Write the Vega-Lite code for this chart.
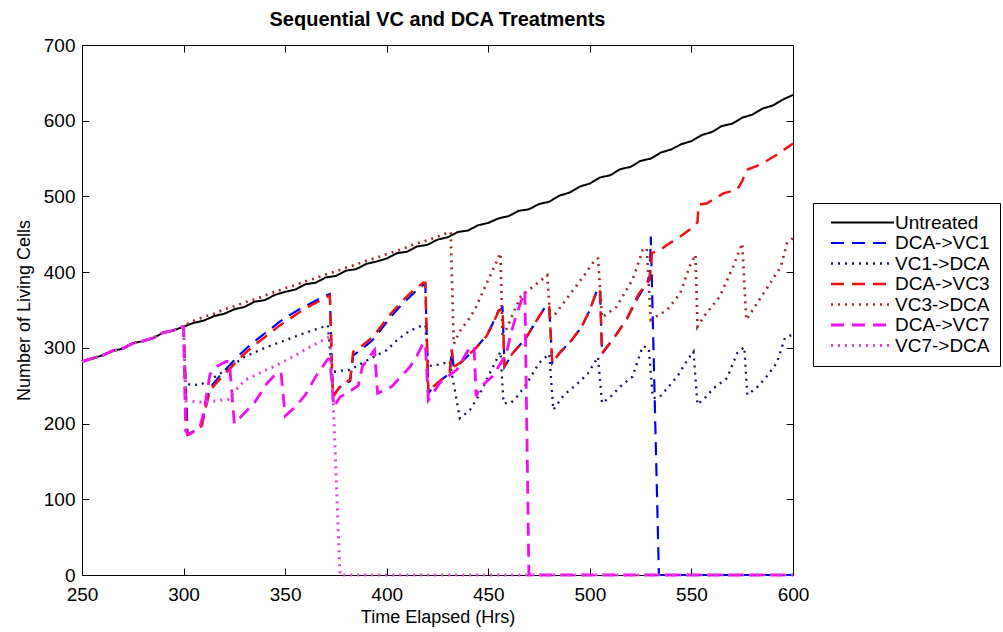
{
"$schema": "https://vega.github.io/schema/vega-lite/v6.json",
"width": 711, "height": 530,
"autosize": {"type": "none"},
"padding": {"left": 82, "top": 45, "right": 210, "bottom": 57},
"background": "white",
"title": {"text": "Sequential VC and DCA Treatments", "font": "Liberation Sans", "fontSize": 20, "fontWeight": "bold", "color": "#000", "offset": 6, "anchor": "middle"},
"config": {
  "view": {"stroke": "#000", "strokeWidth": 1},
  "axis": {"labelFont": "Liberation Sans", "labelFontSize": 19, "labelColor": "#000", "titleFont": "Liberation Sans", "titleFontSize": 18, "titleFontWeight": "normal", "titleColor": "#000", "domain": false, "tickColor": "#000", "tickSize": 7, "tickWidth": 1, "offset": -7, "grid": false, "labelFlush": false, "labelOverlap": false}
},
"data": {"values": [
{"s":"Untreated","t":250,"n":282},{"s":"Untreated","t":255,"n":286},{"s":"Untreated","t":260,"n":290},{"s":"Untreated","t":265,"n":296},{"s":"Untreated","t":270,"n":299},{"s":"Untreated","t":275,"n":306},{"s":"Untreated","t":280,"n":309},{"s":"Untreated","t":285,"n":313},{"s":"Untreated","t":290,"n":320},{"s":"Untreated","t":295,"n":323},{"s":"Untreated","t":300,"n":328},{"s":"Untreated","t":305,"n":333},{"s":"Untreated","t":310,"n":336},{"s":"Untreated","t":315,"n":342},{"s":"Untreated","t":320,"n":345},{"s":"Untreated","t":325,"n":351},{"s":"Untreated","t":330,"n":354},{"s":"Untreated","t":335,"n":361},{"s":"Untreated","t":340,"n":363},{"s":"Untreated","t":345,"n":370},{"s":"Untreated","t":350,"n":374},{"s":"Untreated","t":355,"n":377},{"s":"Untreated","t":360,"n":384},{"s":"Untreated","t":365,"n":386},{"s":"Untreated","t":370,"n":393},{"s":"Untreated","t":375,"n":395},{"s":"Untreated","t":380,"n":402},{"s":"Untreated","t":385,"n":404},{"s":"Untreated","t":390,"n":411},{"s":"Untreated","t":395,"n":414},{"s":"Untreated","t":400,"n":418},{"s":"Untreated","t":405,"n":425},{"s":"Untreated","t":410,"n":427},{"s":"Untreated","t":415,"n":434},{"s":"Untreated","t":420,"n":436},{"s":"Untreated","t":425,"n":443},{"s":"Untreated","t":430,"n":446},{"s":"Untreated","t":435,"n":453},{"s":"Untreated","t":440,"n":455},{"s":"Untreated","t":445,"n":462},{"s":"Untreated","t":450,"n":465},{"s":"Untreated","t":455,"n":471},{"s":"Untreated","t":460,"n":474},{"s":"Untreated","t":465,"n":481},{"s":"Untreated","t":470,"n":483},{"s":"Untreated","t":475,"n":490},{"s":"Untreated","t":480,"n":493},{"s":"Untreated","t":485,"n":501},{"s":"Untreated","t":490,"n":505},{"s":"Untreated","t":495,"n":513},{"s":"Untreated","t":500,"n":517},{"s":"Untreated","t":505,"n":525},{"s":"Untreated","t":510,"n":528},{"s":"Untreated","t":515,"n":536},{"s":"Untreated","t":520,"n":539},{"s":"Untreated","t":525,"n":547},{"s":"Untreated","t":530,"n":550},{"s":"Untreated","t":535,"n":558},{"s":"Untreated","t":540,"n":562},{"s":"Untreated","t":545,"n":569},{"s":"Untreated","t":550,"n":573},{"s":"Untreated","t":555,"n":581},{"s":"Untreated","t":560,"n":585},{"s":"Untreated","t":565,"n":593},{"s":"Untreated","t":570,"n":596},{"s":"Untreated","t":575,"n":604},{"s":"Untreated","t":580,"n":608},{"s":"Untreated","t":585,"n":616},{"s":"Untreated","t":590,"n":620},{"s":"Untreated","t":595,"n":628},{"s":"Untreated","t":600,"n":634},

{"s":"DCA->VC1","t":250,"n":282},{"s":"DCA->VC1","t":255,"n":286},{"s":"DCA->VC1","t":260,"n":290},{"s":"DCA->VC1","t":265,"n":296},{"s":"DCA->VC1","t":270,"n":299},{"s":"DCA->VC1","t":275,"n":306},{"s":"DCA->VC1","t":280,"n":309},{"s":"DCA->VC1","t":285,"n":313},{"s":"DCA->VC1","t":290,"n":320},{"s":"DCA->VC1","t":295,"n":323},{"s":"DCA->VC1","t":300,"n":328},
{"s":"DCA->VC1","t":302,"n":186},{"s":"DCA->VC1","t":305,"n":190},{"s":"DCA->VC1","t":309,"n":199},{"s":"DCA->VC1","t":311,"n":226},{"s":"DCA->VC1","t":313,"n":247},{"s":"DCA->VC1","t":316,"n":257},{"s":"DCA->VC1","t":319,"n":267},{"s":"DCA->VC1","t":324,"n":281},{"s":"DCA->VC1","t":328,"n":292},{"s":"DCA->VC1","t":332,"n":302},{"s":"DCA->VC1","t":337,"n":313},{"s":"DCA->VC1","t":342,"n":323},{"s":"DCA->VC1","t":347,"n":334},{"s":"DCA->VC1","t":352,"n":343},{"s":"DCA->VC1","t":357,"n":351},{"s":"DCA->VC1","t":362,"n":358},{"s":"DCA->VC1","t":367,"n":365},{"s":"DCA->VC1","t":371,"n":370},{"s":"DCA->VC1","t":372,"n":371},{"s":"DCA->VC1","t":373.5,"n":237},{"s":"DCA->VC1","t":377,"n":248},{"s":"DCA->VC1","t":382,"n":256},{"s":"DCA->VC1","t":383.5,"n":290},{"s":"DCA->VC1","t":388,"n":299},{"s":"DCA->VC1","t":393,"n":310},{"s":"DCA->VC1","t":398,"n":327},{"s":"DCA->VC1","t":402,"n":341},{"s":"DCA->VC1","t":406,"n":353},{"s":"DCA->VC1","t":410,"n":364},{"s":"DCA->VC1","t":414,"n":374},{"s":"DCA->VC1","t":418,"n":383},{"s":"DCA->VC1","t":419,"n":384},{"s":"DCA->VC1","t":420.5,"n":240},{"s":"DCA->VC1","t":423,"n":249},{"s":"DCA->VC1","t":427,"n":258},{"s":"DCA->VC1","t":431,"n":266},{"s":"DCA->VC1","t":432,"n":296},{"s":"DCA->VC1","t":433,"n":274},{"s":"DCA->VC1","t":436,"n":279},{"s":"DCA->VC1","t":439,"n":287},{"s":"DCA->VC1","t":444,"n":300},{"s":"DCA->VC1","t":449,"n":316},{"s":"DCA->VC1","t":452,"n":331},{"s":"DCA->VC1","t":455,"n":349},{"s":"DCA->VC1","t":457,"n":353},{"s":"DCA->VC1","t":458,"n":275},{"s":"DCA->VC1","t":462,"n":293},{"s":"DCA->VC1","t":466,"n":305},{"s":"DCA->VC1","t":469,"n":315},{"s":"DCA->VC1","t":474,"n":337},{"s":"DCA->VC1","t":478,"n":354},{"s":"DCA->VC1","t":480,"n":355},{"s":"DCA->VC1","t":481.5,"n":280},{"s":"DCA->VC1","t":485,"n":293},{"s":"DCA->VC1","t":491,"n":310},{"s":"DCA->VC1","t":496,"n":328},{"s":"DCA->VC1","t":500,"n":350},{"s":"DCA->VC1","t":503.5,"n":376},{"s":"DCA->VC1","t":505,"n":378},{"s":"DCA->VC1","t":506,"n":292},{"s":"DCA->VC1","t":511,"n":310},{"s":"DCA->VC1","t":518,"n":337},{"s":"DCA->VC1","t":524,"n":368},{"s":"DCA->VC1","t":528,"n":385},{"s":"DCA->VC1","t":529.5,"n":395},{"s":"DCA->VC1","t":530,"n":447},{"s":"DCA->VC1","t":534,"n":0},{"s":"DCA->VC1","t":545,"n":0},{"s":"DCA->VC1","t":560,"n":0},{"s":"DCA->VC1","t":575,"n":0},{"s":"DCA->VC1","t":600,"n":0},

{"s":"VC1->DCA","t":250,"n":282},{"s":"VC1->DCA","t":255,"n":286},{"s":"VC1->DCA","t":260,"n":290},{"s":"VC1->DCA","t":265,"n":296},{"s":"VC1->DCA","t":270,"n":299},{"s":"VC1->DCA","t":275,"n":306},{"s":"VC1->DCA","t":280,"n":309},{"s":"VC1->DCA","t":285,"n":313},{"s":"VC1->DCA","t":290,"n":320},{"s":"VC1->DCA","t":295,"n":323},{"s":"VC1->DCA","t":300,"n":328},
{"s":"VC1->DCA","t":301,"n":252},{"s":"VC1->DCA","t":308,"n":251},{"s":"VC1->DCA","t":312,"n":256},{"s":"VC1->DCA","t":318,"n":266},{"s":"VC1->DCA","t":324,"n":277},{"s":"VC1->DCA","t":330,"n":288},{"s":"VC1->DCA","t":340,"n":300},{"s":"VC1->DCA","t":350,"n":310},{"s":"VC1->DCA","t":360,"n":320},{"s":"VC1->DCA","t":367,"n":326},{"s":"VC1->DCA","t":371,"n":330},{"s":"VC1->DCA","t":373,"n":268},{"s":"VC1->DCA","t":378,"n":270},{"s":"VC1->DCA","t":382,"n":271},{"s":"VC1->DCA","t":390,"n":283},{"s":"VC1->DCA","t":395,"n":290},{"s":"VC1->DCA","t":400,"n":297},{"s":"VC1->DCA","t":405,"n":310},{"s":"VC1->DCA","t":411,"n":322},{"s":"VC1->DCA","t":416,"n":328},{"s":"VC1->DCA","t":419,"n":330},{"s":"VC1->DCA","t":420.5,"n":276},{"s":"VC1->DCA","t":426,"n":278},{"s":"VC1->DCA","t":431,"n":282},{"s":"VC1->DCA","t":436,"n":207},{"s":"VC1->DCA","t":441,"n":218},{"s":"VC1->DCA","t":446,"n":240},{"s":"VC1->DCA","t":451,"n":268},{"s":"VC1->DCA","t":456,"n":295},{"s":"VC1->DCA","t":457.5,"n":227},{"s":"VC1->DCA","t":461,"n":227},{"s":"VC1->DCA","t":464,"n":235},{"s":"VC1->DCA","t":469,"n":253},{"s":"VC1->DCA","t":475,"n":280},{"s":"VC1->DCA","t":480,"n":292},{"s":"VC1->DCA","t":482,"n":218},{"s":"VC1->DCA","t":487,"n":237},{"s":"VC1->DCA","t":494,"n":253},{"s":"VC1->DCA","t":499,"n":266},{"s":"VC1->DCA","t":504,"n":288},{"s":"VC1->DCA","t":506,"n":227},{"s":"VC1->DCA","t":510,"n":235},{"s":"VC1->DCA","t":515,"n":249},{"s":"VC1->DCA","t":521,"n":262},{"s":"VC1->DCA","t":526,"n":302},{"s":"VC1->DCA","t":529,"n":300},{"s":"VC1->DCA","t":531,"n":234},{"s":"VC1->DCA","t":534,"n":234},{"s":"VC1->DCA","t":539.5,"n":251},{"s":"VC1->DCA","t":543.5,"n":264},{"s":"VC1->DCA","t":548,"n":284},{"s":"VC1->DCA","t":551,"n":295},{"s":"VC1->DCA","t":553,"n":225},{"s":"VC1->DCA","t":557,"n":235},{"s":"VC1->DCA","t":561,"n":247},{"s":"VC1->DCA","t":567.5,"n":260},{"s":"VC1->DCA","t":572.5,"n":293},{"s":"VC1->DCA","t":576,"n":301},{"s":"VC1->DCA","t":577.5,"n":238},{"s":"VC1->DCA","t":582,"n":247},{"s":"VC1->DCA","t":587,"n":262},{"s":"VC1->DCA","t":592,"n":280},{"s":"VC1->DCA","t":596,"n":313},{"s":"VC1->DCA","t":600,"n":318},

{"s":"DCA->VC3","t":250,"n":282},{"s":"DCA->VC3","t":255,"n":286},{"s":"DCA->VC3","t":260,"n":290},{"s":"DCA->VC3","t":265,"n":296},{"s":"DCA->VC3","t":270,"n":299},{"s":"DCA->VC3","t":275,"n":306},{"s":"DCA->VC3","t":280,"n":309},{"s":"DCA->VC3","t":285,"n":313},{"s":"DCA->VC3","t":290,"n":320},{"s":"DCA->VC3","t":295,"n":323},{"s":"DCA->VC3","t":300,"n":328},
{"s":"DCA->VC3","t":301.5,"n":190},{"s":"DCA->VC3","t":302,"n":185},{"s":"DCA->VC3","t":305,"n":189},{"s":"DCA->VC3","t":309,"n":197},{"s":"DCA->VC3","t":311,"n":222},{"s":"DCA->VC3","t":313,"n":244},{"s":"DCA->VC3","t":316,"n":253},{"s":"DCA->VC3","t":319,"n":262},{"s":"DCA->VC3","t":324,"n":276},{"s":"DCA->VC3","t":328,"n":287},{"s":"DCA->VC3","t":332,"n":297},{"s":"DCA->VC3","t":337,"n":308},{"s":"DCA->VC3","t":342,"n":318},{"s":"DCA->VC3","t":347,"n":329},{"s":"DCA->VC3","t":352,"n":338},{"s":"DCA->VC3","t":357,"n":347},{"s":"DCA->VC3","t":362,"n":355},{"s":"DCA->VC3","t":367,"n":362},{"s":"DCA->VC3","t":371,"n":368},{"s":"DCA->VC3","t":372,"n":369},{"s":"DCA->VC3","t":373.5,"n":235},{"s":"DCA->VC3","t":377,"n":249},{"s":"DCA->VC3","t":382,"n":258},{"s":"DCA->VC3","t":383.5,"n":295},{"s":"DCA->VC3","t":388,"n":303},{"s":"DCA->VC3","t":393,"n":314},{"s":"DCA->VC3","t":398,"n":331},{"s":"DCA->VC3","t":402,"n":345},{"s":"DCA->VC3","t":406,"n":357},{"s":"DCA->VC3","t":410,"n":368},{"s":"DCA->VC3","t":414,"n":378},{"s":"DCA->VC3","t":418,"n":386},{"s":"DCA->VC3","t":419,"n":386},{"s":"DCA->VC3","t":420.5,"n":240},{"s":"DCA->VC3","t":423,"n":249},{"s":"DCA->VC3","t":427,"n":258},{"s":"DCA->VC3","t":431,"n":267},{"s":"DCA->VC3","t":432,"n":298},{"s":"DCA->VC3","t":433,"n":275},{"s":"DCA->VC3","t":436,"n":280},{"s":"DCA->VC3","t":439,"n":287},{"s":"DCA->VC3","t":444,"n":300},{"s":"DCA->VC3","t":449,"n":315},{"s":"DCA->VC3","t":452,"n":330},{"s":"DCA->VC3","t":455,"n":348},{"s":"DCA->VC3","t":457,"n":352},{"s":"DCA->VC3","t":458,"n":276},{"s":"DCA->VC3","t":462,"n":293},{"s":"DCA->VC3","t":466,"n":305},{"s":"DCA->VC3","t":469,"n":315},{"s":"DCA->VC3","t":474,"n":337},{"s":"DCA->VC3","t":478,"n":354},{"s":"DCA->VC3","t":480,"n":354},{"s":"DCA->VC3","t":481.5,"n":280},{"s":"DCA->VC3","t":485,"n":293},{"s":"DCA->VC3","t":491,"n":310},{"s":"DCA->VC3","t":496,"n":328},{"s":"DCA->VC3","t":500,"n":350},{"s":"DCA->VC3","t":503.5,"n":376},{"s":"DCA->VC3","t":505,"n":377},{"s":"DCA->VC3","t":506,"n":293},{"s":"DCA->VC3","t":511,"n":310},{"s":"DCA->VC3","t":518,"n":337},{"s":"DCA->VC3","t":524,"n":371},{"s":"DCA->VC3","t":528,"n":385},{"s":"DCA->VC3","t":529.5,"n":390},{"s":"DCA->VC3","t":530.5,"n":425},{"s":"DCA->VC3","t":535,"n":430},{"s":"DCA->VC3","t":538,"n":436},{"s":"DCA->VC3","t":544.5,"n":447},{"s":"DCA->VC3","t":551,"n":460},{"s":"DCA->VC3","t":553,"n":466},{"s":"DCA->VC3","t":553.5,"n":489},{"s":"DCA->VC3","t":557.7,"n":491},{"s":"DCA->VC3","t":565.7,"n":504},{"s":"DCA->VC3","t":572.5,"n":509},{"s":"DCA->VC3","t":575,"n":520},{"s":"DCA->VC3","t":577,"n":535},{"s":"DCA->VC3","t":584,"n":542},{"s":"DCA->VC3","t":592,"n":555},{"s":"DCA->VC3","t":600,"n":570},

{"s":"VC3->DCA","t":250,"n":282},{"s":"VC3->DCA","t":255,"n":286},{"s":"VC3->DCA","t":260,"n":290},{"s":"VC3->DCA","t":265,"n":296},{"s":"VC3->DCA","t":270,"n":299},{"s":"VC3->DCA","t":275,"n":306},{"s":"VC3->DCA","t":280,"n":309},{"s":"VC3->DCA","t":285,"n":313},{"s":"VC3->DCA","t":290,"n":320},{"s":"VC3->DCA","t":295,"n":323},{"s":"VC3->DCA","t":300,"n":329},{"s":"VC3->DCA","t":305,"n":336},{"s":"VC3->DCA","t":310,"n":341},{"s":"VC3->DCA","t":315,"n":345},{"s":"VC3->DCA","t":320,"n":351},{"s":"VC3->DCA","t":325,"n":355},{"s":"VC3->DCA","t":330,"n":360},{"s":"VC3->DCA","t":335,"n":364},{"s":"VC3->DCA","t":340,"n":369},{"s":"VC3->DCA","t":345,"n":374},{"s":"VC3->DCA","t":350,"n":379},{"s":"VC3->DCA","t":355,"n":383},{"s":"VC3->DCA","t":360,"n":388},{"s":"VC3->DCA","t":365,"n":392},{"s":"VC3->DCA","t":370,"n":397},{"s":"VC3->DCA","t":375,"n":401},{"s":"VC3->DCA","t":380,"n":406},{"s":"VC3->DCA","t":385,"n":410},{"s":"VC3->DCA","t":390,"n":415},{"s":"VC3->DCA","t":395,"n":419},{"s":"VC3->DCA","t":400,"n":424},{"s":"VC3->DCA","t":405,"n":428},{"s":"VC3->DCA","t":410,"n":433},{"s":"VC3->DCA","t":415,"n":438},{"s":"VC3->DCA","t":420,"n":442},{"s":"VC3->DCA","t":425,"n":447},{"s":"VC3->DCA","t":430,"n":452},{"s":"VC3->DCA","t":431.5,"n":453},{"s":"VC3->DCA","t":433,"n":305},{"s":"VC3->DCA","t":436,"n":322},{"s":"VC3->DCA","t":441,"n":340},{"s":"VC3->DCA","t":444,"n":354},{"s":"VC3->DCA","t":450,"n":390},{"s":"VC3->DCA","t":456,"n":425},{"s":"VC3->DCA","t":457,"n":313},{"s":"VC3->DCA","t":461,"n":338},{"s":"VC3->DCA","t":466,"n":368},{"s":"VC3->DCA","t":474,"n":385},{"s":"VC3->DCA","t":479,"n":396},{"s":"VC3->DCA","t":480.5,"n":340},{"s":"VC3->DCA","t":482,"n":341},{"s":"VC3->DCA","t":490,"n":370},{"s":"VC3->DCA","t":497,"n":395},{"s":"VC3->DCA","t":503,"n":418},{"s":"VC3->DCA","t":504,"n":418},{"s":"VC3->DCA","t":506,"n":340},{"s":"VC3->DCA","t":513,"n":354},{"s":"VC3->DCA","t":521,"n":390},{"s":"VC3->DCA","t":526,"n":429},{"s":"VC3->DCA","t":528,"n":432},{"s":"VC3->DCA","t":530,"n":337},{"s":"VC3->DCA","t":538,"n":350},{"s":"VC3->DCA","t":544.5,"n":372},{"s":"VC3->DCA","t":549,"n":407},{"s":"VC3->DCA","t":552,"n":423},{"s":"VC3->DCA","t":553,"n":328},{"s":"VC3->DCA","t":556,"n":341},{"s":"VC3->DCA","t":564,"n":368},{"s":"VC3->DCA","t":570.5,"n":407},{"s":"VC3->DCA","t":575,"n":438},{"s":"VC3->DCA","t":577,"n":337},{"s":"VC3->DCA","t":585,"n":370},{"s":"VC3->DCA","t":594,"n":407},{"s":"VC3->DCA","t":597,"n":438},{"s":"VC3->DCA","t":600,"n":445},

{"s":"DCA->VC7","t":250,"n":282},{"s":"DCA->VC7","t":255,"n":286},{"s":"DCA->VC7","t":260,"n":290},{"s":"DCA->VC7","t":265,"n":296},{"s":"DCA->VC7","t":270,"n":299},{"s":"DCA->VC7","t":275,"n":306},{"s":"DCA->VC7","t":280,"n":309},{"s":"DCA->VC7","t":285,"n":313},{"s":"DCA->VC7","t":290,"n":320},{"s":"DCA->VC7","t":295,"n":323},{"s":"DCA->VC7","t":300,"n":328},
{"s":"DCA->VC7","t":301,"n":190},{"s":"DCA->VC7","t":303,"n":186},{"s":"DCA->VC7","t":308,"n":195},{"s":"DCA->VC7","t":310,"n":215},{"s":"DCA->VC7","t":313,"n":265},{"s":"DCA->VC7","t":316,"n":275},{"s":"DCA->VC7","t":321,"n":282},{"s":"DCA->VC7","t":322.5,"n":282},{"s":"DCA->VC7","t":325,"n":200},{"s":"DCA->VC7","t":330,"n":214},{"s":"DCA->VC7","t":335,"n":228},{"s":"DCA->VC7","t":341,"n":253},{"s":"DCA->VC7","t":346,"n":267},{"s":"DCA->VC7","t":348,"n":267},{"s":"DCA->VC7","t":350,"n":210},{"s":"DCA->VC7","t":355,"n":222},{"s":"DCA->VC7","t":360,"n":238},{"s":"DCA->VC7","t":365,"n":262},{"s":"DCA->VC7","t":371,"n":285},{"s":"DCA->VC7","t":372,"n":285},{"s":"DCA->VC7","t":374,"n":222},{"s":"DCA->VC7","t":377,"n":235},{"s":"DCA->VC7","t":382,"n":243},{"s":"DCA->VC7","t":386,"n":250},{"s":"DCA->VC7","t":388,"n":275},{"s":"DCA->VC7","t":392,"n":290},{"s":"DCA->VC7","t":394,"n":297},{"s":"DCA->VC7","t":395.5,"n":240},{"s":"DCA->VC7","t":402.5,"n":249},{"s":"DCA->VC7","t":407,"n":262},{"s":"DCA->VC7","t":411.5,"n":275},{"s":"DCA->VC7","t":415,"n":290},{"s":"DCA->VC7","t":418,"n":306},{"s":"DCA->VC7","t":419,"n":306},{"s":"DCA->VC7","t":420.5,"n":231},{"s":"DCA->VC7","t":426,"n":253},{"s":"DCA->VC7","t":430,"n":262},{"s":"DCA->VC7","t":434.5,"n":271},{"s":"DCA->VC7","t":441,"n":301},{"s":"DCA->VC7","t":443,"n":302},{"s":"DCA->VC7","t":444,"n":236},{"s":"DCA->VC7","t":446,"n":248},{"s":"DCA->VC7","t":452,"n":262},{"s":"DCA->VC7","t":455,"n":275},{"s":"DCA->VC7","t":459,"n":293},{"s":"DCA->VC7","t":461,"n":318},{"s":"DCA->VC7","t":464,"n":345},{"s":"DCA->VC7","t":468,"n":375},{"s":"DCA->VC7","t":470,"n":0},{"s":"DCA->VC7","t":490,"n":0},{"s":"DCA->VC7","t":520,"n":0},{"s":"DCA->VC7","t":560,"n":0},{"s":"DCA->VC7","t":600,"n":0},

{"s":"VC7->DCA","t":250,"n":282},{"s":"VC7->DCA","t":255,"n":286},{"s":"VC7->DCA","t":260,"n":290},{"s":"VC7->DCA","t":265,"n":296},{"s":"VC7->DCA","t":270,"n":299},{"s":"VC7->DCA","t":275,"n":306},{"s":"VC7->DCA","t":280,"n":309},{"s":"VC7->DCA","t":285,"n":313},{"s":"VC7->DCA","t":290,"n":320},{"s":"VC7->DCA","t":295,"n":323},{"s":"VC7->DCA","t":300,"n":328},
{"s":"VC7->DCA","t":301,"n":230},{"s":"VC7->DCA","t":310,"n":228},{"s":"VC7->DCA","t":322,"n":232},{"s":"VC7->DCA","t":326,"n":245},{"s":"VC7->DCA","t":330,"n":257},{"s":"VC7->DCA","t":340,"n":270},{"s":"VC7->DCA","t":345,"n":276},{"s":"VC7->DCA","t":350,"n":283},{"s":"VC7->DCA","t":355,"n":290},{"s":"VC7->DCA","t":360,"n":298},{"s":"VC7->DCA","t":365,"n":305},{"s":"VC7->DCA","t":370,"n":312},{"s":"VC7->DCA","t":372,"n":315},{"s":"VC7->DCA","t":373.5,"n":240},{"s":"VC7->DCA","t":377,"n":0},{"s":"VC7->DCA","t":400,"n":0},{"s":"VC7->DCA","t":450,"n":0},{"s":"VC7->DCA","t":500,"n":0},{"s":"VC7->DCA","t":550,"n":0},{"s":"VC7->DCA","t":600,"n":0}
]},
"layer": [
{
 "mark": {"type": "line", "clip": false},
 "encoding": {
  "x": {"field": "t", "type": "quantitative", "scale": {"domain": [250, 600], "nice": false, "zero": false},
        "axis": {"orient": "bottom", "values": [250,300,350,400,450,500,550,600], "format": "d", "title": "Time Elapsed (Hrs)", "labelPadding": 10, "titlePadding": 4}},
  "y": {"field": "n", "type": "quantitative", "scale": {"domain": [0, 700], "nice": false},
        "axis": {"orient": "left", "values": [0,100,200,300,400,500,600,700], "format": "d", "title": "Number of Living Cells", "labelPadding": 7, "titlePadding": 10}},
  "color": {"field": "s", "type": "nominal", "title": null,
    "scale": {"domain": ["Untreated","DCA->VC1","VC1->DCA","DCA->VC3","VC3->DCA","DCA->VC7","VC7->DCA"],
              "range": ["#000000","#0000ee","#121266","#ee1111","#9e2a2a","#f010f0","#dd44dd"]},
    "legend": {"title": null, "orient": "none", "legendX": 731, "legendY": 158, "strokeColor": "#000", "fillColor": "#fff", "padding": 10, "symbolType": "M-6.3,0H6.3", "symbolSize": 100, "labelFont": "Liberation Sans", "labelFontSize": 19, "labelColor": "#000", "labelOffset": 23, "symbolOffset": 30, "rowPadding": 0.5}},
  "strokeDash": {"field": "s", "type": "nominal", "title": null,
    "scale": {"domain": ["Untreated","DCA->VC1","VC1->DCA","DCA->VC3","VC3->DCA","DCA->VC7","VC7->DCA"],
              "range": [[1,0],[13,8],[2,5],[13,8],[2,5],[13,8],[2,5]]},
    "legend": {"title": null, "orient": "none", "legendX": 731, "legendY": 158, "strokeColor": "#000", "fillColor": "#fff", "padding": 10, "symbolType": "M-6.3,0H6.3", "symbolSize": 100, "labelFont": "Liberation Sans", "labelFontSize": 19, "labelColor": "#000", "labelOffset": 23, "symbolOffset": 30, "rowPadding": 0.5}},
  "strokeWidth": {"field": "s", "type": "ordinal", "title": null,
    "scale": {"domain": ["Untreated","DCA->VC1","VC1->DCA","DCA->VC3","VC3->DCA","DCA->VC7","VC7->DCA"],
              "range": [2, 3, 2.2, 3, 2.2, 3, 2.2]},
    "legend": {"title": null, "orient": "none", "legendX": 731, "legendY": 158, "strokeColor": "#000", "fillColor": "#fff", "padding": 10, "symbolType": "M-6.3,0H6.3", "symbolSize": 100, "labelFont": "Liberation Sans", "labelFontSize": 19, "labelColor": "#000", "labelOffset": 23, "symbolOffset": 30, "rowPadding": 0.5}}
 }
},
{
 "mark": {"type": "line", "opacity": 0},
 "encoding": {
  "x": {"field": "t", "type": "quantitative", "axis": {"orient": "top", "values": [250,300,350,400,450,500,550,600], "labels": false, "title": null}},
  "y": {"field": "n", "type": "quantitative", "axis": {"orient": "right", "values": [0,100,200,300,400,500,600,700], "labels": false, "title": null}},
  "detail": {"field": "s"}
 }
}
],
"resolve": {"axis": {"x": "independent", "y": "independent"}}
}
